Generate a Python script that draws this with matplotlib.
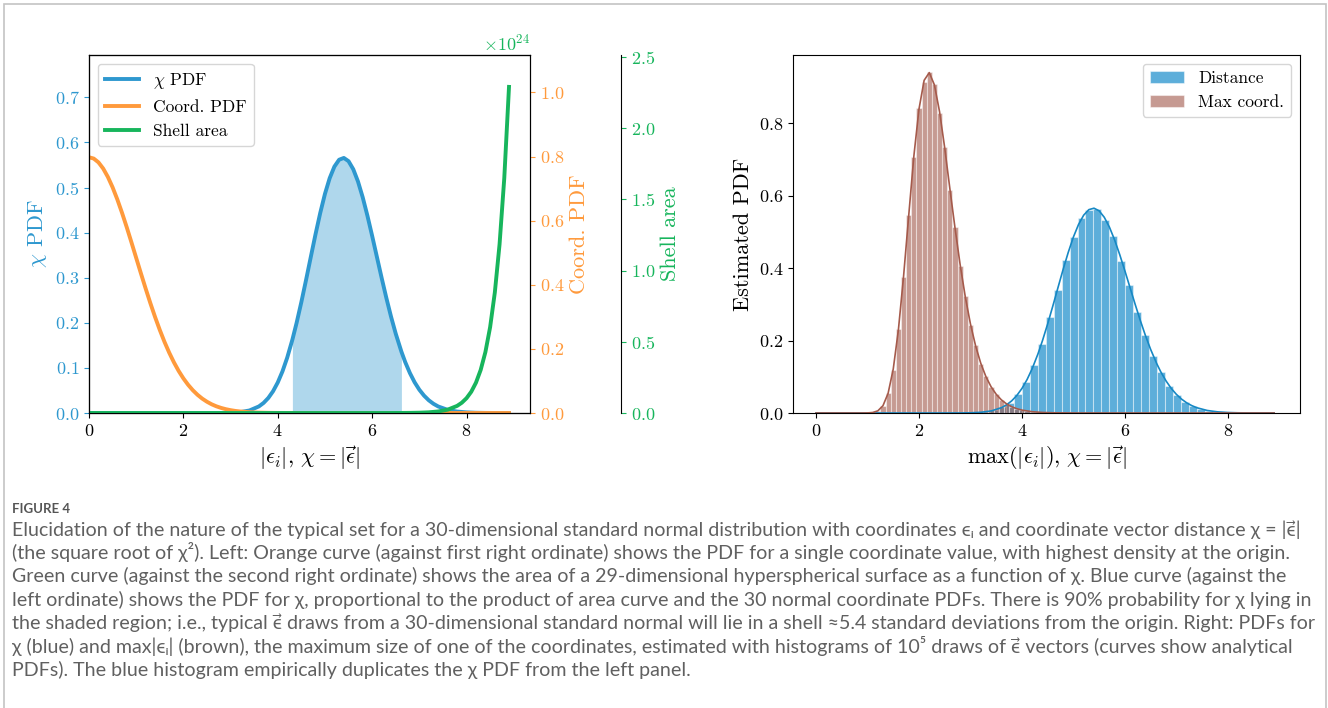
import numpy as np
import matplotlib
matplotlib.use("Agg")
from matplotlib import pyplot
from matplotlib.colors import to_rgba
from matplotlib.patches import Rectangle

pyplot.rcParams.update({
    "font.family": "serif",
    "font.serif": ["cmr10"],
    "mathtext.fontset": "cm",
    "axes.unicode_minus": False,
    "axes.formatter.use_mathtext": True,
    "font.size": 13,
})

# chi distribution (30 dof) sampled along |eps|
chi_x = [0.0, 0.4, 0.8, 1.2, 1.6, 2.0, 2.4, 2.6, 2.8, 3.0, 3.2, 3.4, 3.6, 3.7, 3.8,
         3.9, 4.0, 4.1, 4.2, 4.31, 4.4, 4.5, 4.6, 4.7, 4.8, 4.9, 5.0, 5.1, 5.2, 5.3,
         5.4, 5.5, 5.6, 5.7, 5.8, 5.9, 6.0, 6.1, 6.2, 6.3, 6.4, 6.5, 6.62, 6.7, 6.8,
         6.9, 7.0, 7.1, 7.2, 7.3, 7.4, 7.6, 7.8, 8.0, 8.2, 8.4, 8.6, 8.8, 8.9]
chi_pdf = [0.0, 0.0, 0.0, 0.0, 0.0, 0.0, 0.0, 0.00003, 0.00013, 0.00053, 0.00187,
           0.0056, 0.01458, 0.0224, 0.03337, 0.04823, 0.06771, 0.09237, 0.1227,
           0.1627, 0.2002, 0.2461, 0.2953, 0.3461, 0.3964, 0.4437, 0.4860, 0.5208,
           0.5465, 0.5617, 0.5657, 0.5585, 0.5406, 0.5134, 0.4784, 0.4375, 0.3929,
           0.3465, 0.3002, 0.2556, 0.2138, 0.1759, 0.1361, 0.1131, 0.0886, 0.0681,
           0.0516, 0.0385, 0.0282, 0.0204, 0.0145, 0.0070, 0.0032, 0.0014, 0.00056,
           0.00021, 0.00008, 0.00003, 0.00001]

# half-normal PDF of a single coordinate
coord_x = [0.0, 0.1, 0.2, 0.3, 0.4, 0.5, 0.6, 0.7, 0.8, 0.9, 1.0, 1.1, 1.2, 1.3,
           1.4, 1.5, 1.6, 1.7, 1.8, 1.9, 2.0, 2.1, 2.2, 2.3, 2.4, 2.5, 2.6, 2.7,
           2.8, 2.9, 3.0, 3.1, 3.2, 3.4, 3.6, 3.8, 4.0, 4.2, 4.4, 5.0, 8.9]
coord_pdf = [0.7979, 0.7939, 0.7821, 0.7628, 0.7365, 0.7041, 0.6664, 0.6245,
             0.5794, 0.5322, 0.4839, 0.4357, 0.3884, 0.3428, 0.2995, 0.2591,
             0.2218, 0.1881, 0.1579, 0.1312, 0.1080, 0.0880, 0.0710, 0.0567,
             0.0448, 0.0351, 0.0271, 0.0208, 0.01583, 0.0119, 0.00886, 0.0065,
             0.00477, 0.00247, 0.00122, 0.00058, 0.00027, 0.00012, 0.00005, 0.0, 0.0]

# area of the 29-sphere, in units of 1e24
shell_x = [0.0, 5.0, 6.0, 6.4, 6.6, 6.8, 7.0, 7.2, 7.4, 7.6, 7.8, 7.9, 8.0, 8.1,
           8.2, 8.3, 8.4, 8.5, 8.6, 8.7, 8.8, 8.9]
shell_area = [0.0, 0.0, 0.00003, 0.00017, 0.0004, 0.00093, 0.00216, 0.0049,
              0.01084, 0.0235, 0.0499, 0.0722, 0.1040, 0.1491, 0.2129, 0.3025,
              0.428, 0.603, 0.847, 1.185, 1.650, 2.29]
shell_scale = 1e24

shade_range = (4.31, 6.62)  # 90% interval of chi

# analytical PDF of max|eps_i|
maxc_x = [0.0, 0.8, 0.9, 1.0, 1.1, 1.2, 1.3, 1.4, 1.5, 1.6, 1.7, 1.8, 1.9, 2.0,
          2.1, 2.2, 2.3, 2.4, 2.5, 2.6, 2.7, 2.8, 2.9, 3.0, 3.1, 3.2, 3.3, 3.4,
          3.5, 3.6, 3.7, 3.8, 3.9, 4.0, 4.2, 4.4, 4.6, 4.8, 5.0, 6.0, 8.9]
maxc_pdf = [0.0, 0.0, 0.00001, 0.00023, 0.00135, 0.00593, 0.02005, 0.0543, 0.1214,
            0.2297, 0.3768, 0.5443, 0.7091, 0.8395, 0.9189, 0.9402, 0.9062, 0.8321,
            0.7321, 0.6197, 0.5110, 0.4093, 0.3205, 0.2459, 0.1853, 0.1375, 0.1005,
            0.0726, 0.0517, 0.0364, 0.0253, 0.0174, 0.0119, 0.0080, 0.0035, 0.0015,
            0.0006, 0.0003, 0.0001, 0.0, 0.0]

# histograms of 1e5 draws
dist_edges = np.linspace(2.6, 8.955, 42)
dist_heights = [0.0001, 0.0002, 0.0005, 0.0013, 0.0033, 0.0071, 0.0153, 0.0284,
                0.0519, 0.0843, 0.1333, 0.1908, 0.2660, 0.3401, 0.4215, 0.4851,
                0.5390, 0.5609, 0.5645, 0.5331, 0.4890, 0.4212, 0.3540, 0.2790,
                0.2163, 0.1561, 0.1120, 0.0744, 0.0497, 0.0305, 0.0188, 0.0107,
                0.0062, 0.0032, 0.0017, 0.0009, 0.0004, 0.0002, 0.0001, 0.0, 0.0]
maxc_edges = np.linspace(0.95, 5.05, 42)
maxc_heights = [0.0003, 0.0015, 0.0062, 0.0196, 0.0551, 0.1198, 0.2320, 0.3745,
                0.5480, 0.7062, 0.8421, 0.9150, 0.9418, 0.9095, 0.8290, 0.7345,
                0.6170, 0.5138, 0.4070, 0.3222, 0.2441, 0.1870, 0.1360, 0.1012,
                0.0718, 0.0524, 0.0358, 0.0257, 0.0170, 0.0122, 0.0078, 0.0055,
                0.0034, 0.0024, 0.0014, 0.0010, 0.0006, 0.0004, 0.0003, 0.0002, 0.0001]

caption_title = "FIGURE 4"
caption_lines = [
    "Elucidation of the nature of the typical set for a 30-dimensional standard normal distribution with coordinates ϵᵢ and coordinate vector distance χ = |ϵ\u20d7|",
    "(the square root of χ²). Left: Orange curve (against first right ordinate) shows the PDF for a single coordinate value, with highest density at the origin.",
    "Green curve (against the second right ordinate) shows the area of a 29-dimensional hyperspherical surface as a function of χ. Blue curve (against the",
    "left ordinate) shows the PDF for χ, proportional to the product of area curve and the 30 normal coordinate PDFs. There is 90% probability for χ lying in",
    "the shaded region; i.e., typical ϵ\u20d7 draws from a 30-dimensional standard normal will lie in a shell ≈5.4 standard deviations from the origin. Right: PDFs for",
    "χ (blue) and max|ϵᵢ| (brown), the maximum size of one of the coordinates, estimated with histograms of 10⁵ draws of ϵ\u20d7 vectors (curves show analytical",
    "PDFs). The blue histogram empirically duplicates the χ PDF from the left panel.",
]

CHI_C = "#2e98cf"
COORD_C = "#ff9a3c"
SHELL_C = "#17b55c"
DIST_C = "#1f8fcc"
MAXC_C = "#a0574a"

W, H = 1328, 708
fig = pyplot.figure(figsize=(W / 100, H / 100), dpi=100)

# ---------------- left panel ----------------
ax1 = fig.add_axes([89 / W, 1 - 413 / H, 441 / W, 358 / H])
ax2 = ax1.twinx()
ax3 = ax1.twinx()
ax3.spines["right"].set_position(("axes", 1.206))

l1, = ax1.plot(chi_x, chi_pdf, color=CHI_C, lw=2.8, label=r"$\chi$ PDF")
cx = np.array(chi_x)
ax1.fill_between(cx, chi_pdf, where=(cx >= shade_range[0]) & (cx <= shade_range[1]),
                 color=CHI_C, alpha=0.38, lw=0)
l2, = ax2.plot(coord_x, coord_pdf, color=COORD_C, lw=2.8, label="Coord. PDF")
l3, = ax3.plot(shell_x, np.array(shell_area) * shell_scale, color=SHELL_C, lw=2.8,
               label="Shell area")

ax1.set_xlim(0, 9.345)
ax1.set_ylim(0, 0.794)
ax2.set_ylim(0, 1.117)
ax3.set_ylim(0, 2.514 * shell_scale)
ax1.set_yticks(np.arange(0, 0.75, 0.1))
ax2.set_yticks(np.arange(0, 1.05, 0.2))
ax3.set_yticks(np.arange(0, 2.55, 0.5) * shell_scale)
ax1.set_xticks([0, 2, 4, 6, 8])

for ax, c in ((ax1, CHI_C), (ax2, COORD_C), (ax3, SHELL_C)):
    ax.tick_params(axis="y", colors=c, labelsize=13)
ax3.yaxis.get_offset_text().set_color(SHELL_C)
ax3.yaxis.get_offset_text().set_fontsize(13)
ax1.tick_params(axis="x", labelsize=13)

ax1.set_ylabel(r"$\chi$ PDF", color=CHI_C, fontsize=16)
ax2.set_ylabel("Coord. PDF", color=COORD_C, fontsize=16)
ax3.set_ylabel("Shell area", color=SHELL_C, fontsize=16)
ax1.set_xlabel(r"$|\epsilon_i|,\, \chi = |\vec{\epsilon}|$", fontsize=16)

ax1.legend(handles=[l1, l2, l3], loc="upper left", fontsize=12.5)

# ---------------- right panel ----------------
ax4 = fig.add_axes([793 / W, 1 - 413 / H, 507 / W, 358 / H])
b1 = ax4.bar(dist_edges[:-1], dist_heights, width=np.diff(dist_edges), align="edge",
             facecolor=to_rgba(DIST_C, 0.72), edgecolor=(1, 1, 1, 0.45), lw=0.8,
             label="Distance")
b2 = ax4.bar(maxc_edges[:-1], maxc_heights, width=np.diff(maxc_edges), align="edge",
             facecolor=to_rgba(MAXC_C, 0.6), edgecolor=(1, 1, 1, 0.45), lw=0.8,
             label="Max coord.")
ax4.plot(chi_x, chi_pdf, color="#1688c4", lw=1.2)
ax4.plot(maxc_x, maxc_pdf, color="#a55a4b", lw=1.2)
ax4.set_ylim(bottom=0)
ax4.tick_params(labelsize=13)
ax4.set_ylabel("Estimated PDF", fontsize=16)
ax4.set_xlabel(r"$\max(|\epsilon_i|),\, \chi = |\vec{\epsilon}|$", fontsize=16)
ax4.legend(handles=[b1, b2], loc="upper right", fontsize=12.5)

# ---------------- caption ----------------
fig.text(12 / W, 1 - 509 / H, caption_title, fontsize=9.5, fontweight="bold",
         color="#555555", family=["Lato", "DejaVu Sans"], va="center")
line_y = [530, 553, 576, 600, 623, 647, 670]
texts = []
for y, line in zip(line_y, caption_lines):
    texts.append(fig.text(12 / W, 1 - y / H, line, fontsize=12, color="#606060",
                          family=["Lato", "DejaVu Sans"], va="baseline"))
renderer = fig.canvas.get_renderer()
scale = 1285 / texts[0].get_window_extent(renderer).width
for y, t in zip(line_y, texts):
    t.set_fontsize(12 * scale)
    t.set_y(1 - (y + 6) / H)

# page frame
fig.add_artist(Rectangle((4 / W, -0.05), 1322 / W, 1.05 - 4 / H, transform=fig.transFigure,
                         fill=False, edgecolor="#c4c4c4", lw=1.2))

fig.savefig("out.png", dpi=100)
pyplot.close(fig)
